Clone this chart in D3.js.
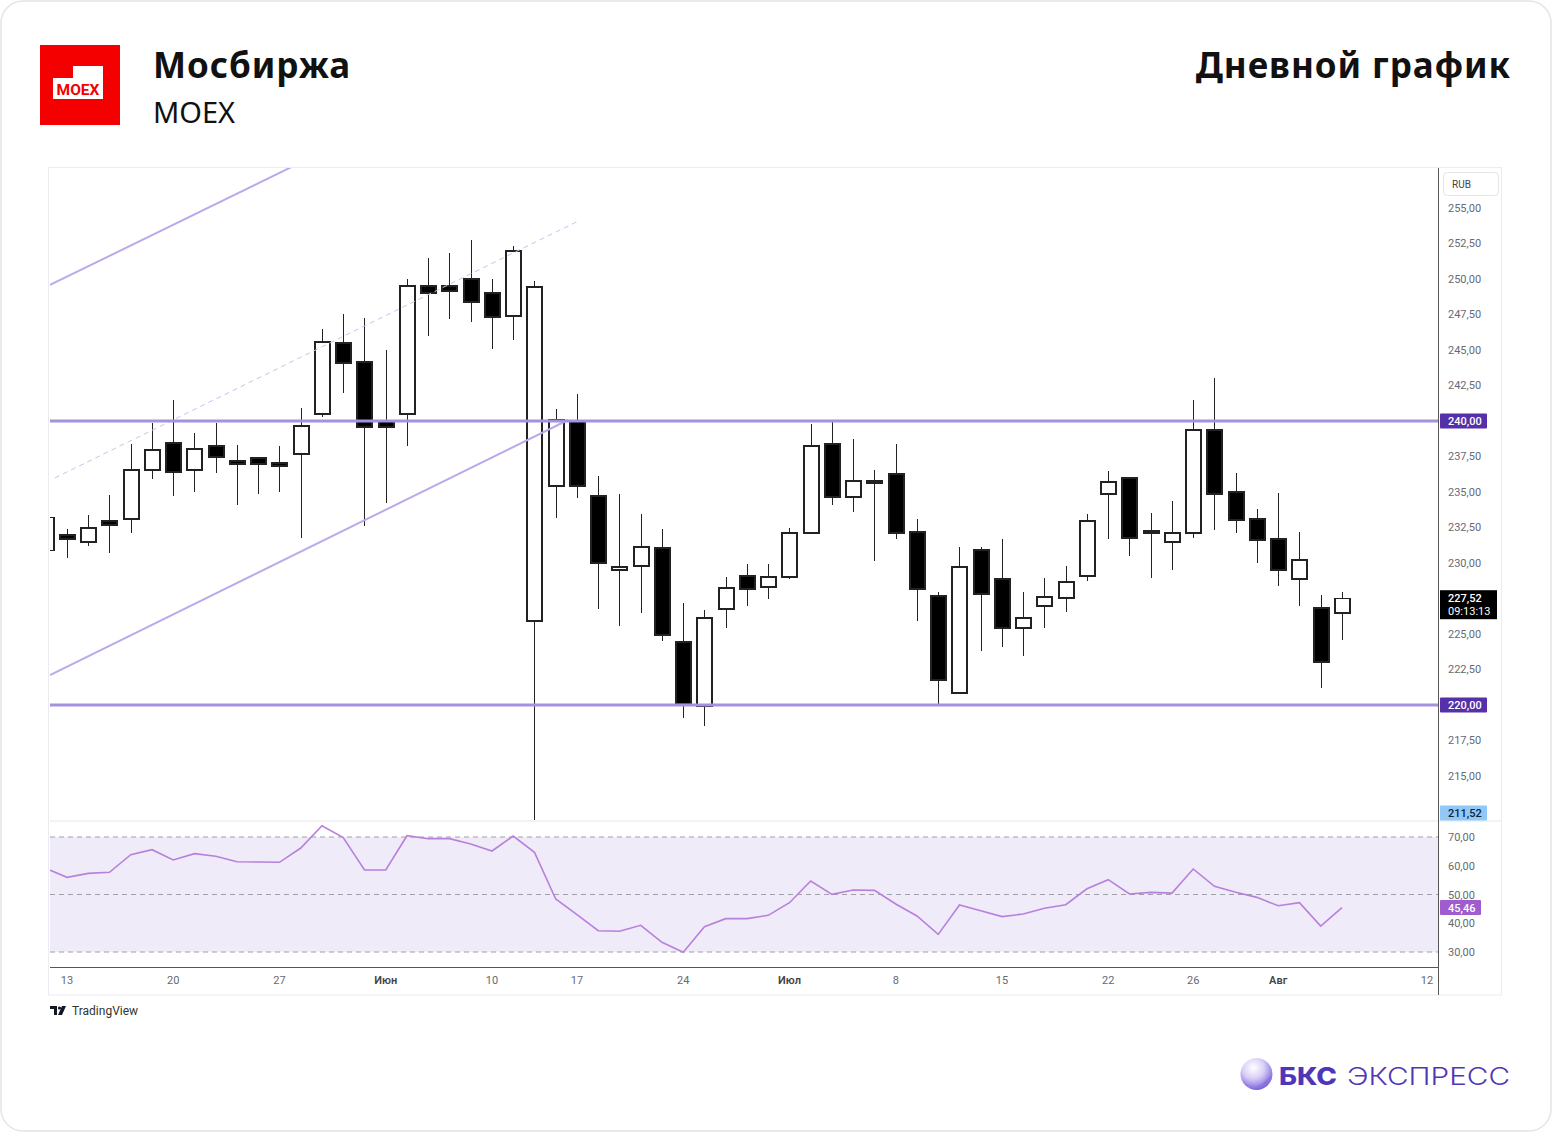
<!DOCTYPE html>
<html><head><meta charset="utf-8">
<script src="https://cdn.jsdelivr.net/npm/d3@7/dist/d3.min.js"></script>
<style>body{margin:0;background:#fff}svg{display:block}</style>
</head><body>
<svg id="c" width="1552" height="1132"></svg>
<script>
// ---------- DATA ----------
const dates = ["05-10","05-13","05-14","05-15","05-16","05-17","05-20","05-21","05-22","05-23","05-24","05-27","05-28","05-29","05-30","05-31",
"06-03","06-04","06-05","06-06","06-07","06-10","06-11","06-13","06-14","06-17","06-18","06-19","06-20","06-21","06-24","06-25","06-26","06-27","06-28",
"07-01","07-02","07-03","07-04","07-05","07-08","07-09","07-10","07-11","07-12","07-15","07-16","07-17","07-18","07-19","07-22","07-23","07-24","07-25","07-26","07-29","07-30","07-31",
"08-01","08-02","08-05","08-06","08-07","08-08","08-09","08-12"];
const open  = [230.90,231.97,231.48,232.96,233.10,236.55,238.45,236.55,238.24,237.18,237.39,237.04,237.68,240.49,245.49,244.15,240.00,240.49,249.51,249.51,250.00,249.01,247.39,225.92,235.42,240.00,234.72,229.51,229.79,231.06,224.44,219.93,226.76,229.08,228.31,229.01,232.11,238.38,234.65,235.77,236.27,232.18,227.68,220.85,230.92,228.87,225.42,226.97,227.54,229.08,234.86,235.99,232.25,231.48,232.11,239.37,235.00,233.10,231.69,228.87,226.83,226.48];
const high  = [233.40,232.39,233.38,234.79,238.38,239.86,241.48,239.15,239.86,238.31,237.46,238.24,240.92,246.48,247.54,247.25,245.00,250.00,251.48,251.83,252.75,250.00,252.32,249.86,240.85,241.90,236.13,234.86,233.45,232.39,227.18,226.69,229.01,229.93,229.93,232.46,239.79,240.00,238.73,236.55,238.38,233.10,227.96,231.13,231.13,231.69,227.96,228.94,229.79,233.45,236.48,235.99,233.52,234.37,241.48,243.03,236.34,233.80,234.93,232.18,227.75,227.96];
const low   = [230.50,230.35,231.20,230.70,232.11,235.92,234.72,235.00,236.34,234.08,234.86,235.00,231.76,240.28,241.97,232.61,234.23,238.24,245.99,247.18,246.97,245.07,245.70,211.52,233.17,234.58,226.76,225.56,226.48,224.51,219.08,218.52,225.42,226.97,227.46,228.87,232.11,234.08,233.59,230.14,231.69,225.92,220.00,220.85,223.80,224.08,223.45,225.42,226.55,228.73,231.69,230.49,228.94,229.51,231.76,232.32,232.11,230.00,228.38,226.97,221.20,224.58];
const close = [233.20,231.69,232.46,232.68,236.55,237.96,236.41,238.03,237.46,236.97,236.97,236.83,239.65,245.56,244.08,239.58,239.58,249.51,249.01,249.15,248.38,247.32,251.97,249.44,240.07,235.42,230.00,229.72,231.13,224.93,220.07,226.13,228.24,228.17,229.01,232.11,238.24,234.65,235.77,235.63,232.11,228.17,221.76,229.72,227.82,225.42,226.13,227.61,228.66,232.96,235.70,231.76,232.22,232.11,239.37,234.86,233.03,231.62,229.51,230.21,223.03,227.52];
const rsi   = [59.1,55.97,57.36,57.71,63.85,65.59,62.0,64.2,63.3,61.4,61.3,61.2,66.17,73.9,69.77,58.52,58.52,70.45,69.42,69.42,67.6,65.13,70.35,64.67,48.43,42.97,37.4,37.2,39.27,33.37,29.9,38.8,41.6,41.6,42.76,47.15,54.7,50.06,51.57,51.45,46.7,42.52,36.14,46.35,44.37,42.3,43.2,45.2,46.45,52.0,55.15,50.17,50.75,50.5,58.87,52.85,50.75,49.0,46.1,47.15,39.04,45.46];
const priceTicks = [255,252.5,250,247.5,245,242.5,237.5,235,232.5,230,225,222.5,217.5,215];
const rsiTicks = [70,60,50,40,30];
const rsiLevels = [70,50,30];
const levels = [240,220];
const tickDates  = ["05-13","05-20","05-27","06-03","06-10","06-17","06-24","07-01","07-08","07-15","07-22","07-26","08-01","08-12"];
const tickLabels = ["13","20","27","Июн","10","17","24","Июл","8","15","22","26","Авг","12"];
const monthTicks = ["Июн","Июл","Авг"];
// channel drawings: [bar position, price] pairs
const channelUpper = [[0.2,249.58],[11.47,257.82]];
const channelLower = [[0.2,222.11],[24.58,240.07]];
const channelMid   = [[0.43,235.99],[25.06,254.08]];

// ---------- LAYOUT ----------
const svg = d3.select("#c");
const L = 50, R = 1438, PT = 168, PB = 820, RT = 822, RB = 966, AXB = 995;
const fmt = v => d3.format(".2f")(v).replace(".", ",");

// card
svg.append("rect").attr("x",1).attr("y",1).attr("width",1550).attr("height",1130).attr("rx",22)
  .attr("fill","#fff").attr("stroke","#e4e4e8").attr("stroke-width",1.5);

// header
const logo = svg.append("g");
logo.append("rect").attr("x",40).attr("y",45).attr("width",80).attr("height",80).attr("fill","#f50000");
logo.append("path").attr("d","M53,78 H73 V66 H103 V99 H53 Z").attr("fill","#fff");
logo.append("text").attr("x",78).attr("y",95).attr("text-anchor","middle").attr("font-family","Roboto, Arial, sans-serif")
  .attr("font-weight",700).attr("font-size",15.5).attr("fill","#f50000").text("MOEX");
const hf = "'Noto Sans', 'Open Sans', sans-serif";
svg.append("text").attr("x",153).attr("y",78).attr("font-family",hf)
  .attr("font-weight",700).attr("font-size",35).attr("letter-spacing",0.95).attr("fill","#111").text("Мосбиржа");
svg.append("text").attr("x",153).attr("y",123).attr("font-family",hf)
  .attr("font-weight",400).attr("font-size",29).attr("fill","#111").text("MOEX");
svg.append("text").attr("x",1511).attr("y",78).attr("text-anchor","end").attr("font-family",hf)
  .attr("font-weight",700).attr("font-size",35).attr("letter-spacing",0.95).attr("fill","#111").text("Дневной график");

// frame
svg.append("rect").attr("x",48.5).attr("y",167.5).attr("width",1453).attr("height",AXB-167.5)
  .attr("fill","none").attr("stroke","#ebebf2");

// scales
const idx = d => dates.indexOf(d);
const x = d3.scaleLinear().domain([0.2, 65.52]).range([L, R]);
const y = d3.scaleLinear().domain([220, 240]).range([705, 421]);
const yr = d3.scaleLinear().domain([30, 70]).range([952, 837]);

const defs = svg.append("defs");
defs.append("clipPath").attr("id","pc").append("rect")
  .attr("x",L).attr("y",PT).attr("width",R-L).attr("height",PB-PT);
defs.append("clipPath").attr("id","rc").append("rect")
  .attr("x",L).attr("y",RT).attr("width",R-L).attr("height",RB-RT);

const pane = svg.append("g").attr("clip-path","url(#pc)");

// candles
const candles = open.map((o,i)=>({i, o, h:high[i], l:low[i], c:close[i]}));
const bw = 15;
const cg = pane.append("g").attr("shape-rendering","crispEdges");
cg.selectAll("line.w").data(candles).join("line").attr("class","w")
  .attr("x1",d=>Math.round(x(d.i))+0.5).attr("x2",d=>Math.round(x(d.i))+0.5)
  .attr("y1",d=>y(d.h)).attr("y2",d=>y(d.l)).attr("stroke","#222").attr("stroke-width",1.3);
cg.selectAll("rect.b").data(candles).join("rect").attr("class","b")
  .attr("x",d=>Math.round(x(d.i))-7).attr("width",bw)
  .attr("y",d=>y(Math.max(d.o,d.c))).attr("height",d=>Math.max(2, Math.abs(y(d.o)-y(d.c))))
  .attr("fill",d=>d.c>=d.o?"#fff":"#000").attr("stroke","#222").attr("stroke-width",1.3);

// drawings on top: channel lines
const lineGen = d3.line().x(d => x(d[0])).y(d => y(d[1]));
function extend(pts, x0, x1){
  const [a,b] = pts; const s = (b[1]-a[1])/(b[0]-a[0]);
  return [[x0, a[1]+s*(x0-a[0])],[x1, a[1]+s*(x1-a[0])]];
}
pane.append("path").attr("d", lineGen(extend(channelUpper, 0.2, 13))).attr("stroke","#bca9ec").attr("stroke-width",2).attr("fill","none");
pane.append("path").attr("d", lineGen(channelLower)).attr("stroke","#bca9ec").attr("stroke-width",2).attr("fill","none");
pane.append("path").attr("d", lineGen(channelMid)).attr("stroke","#cdbff2").attr("stroke-width",1).attr("stroke-dasharray","5,4").attr("fill","none");

// levels
pane.selectAll("line.lvl").data(levels).join("line").attr("class","lvl")
  .attr("x1",L).attr("x2",R).attr("y1",d=>y(d)).attr("y2",d=>y(d))
  .attr("stroke","#a592de").attr("stroke-width",3);

// RSI pane
const rp = svg.append("g").attr("clip-path","url(#rc)");
rp.append("rect").attr("x",L).attr("width",R-L).attr("y",yr(70)).attr("height",yr(30)-yr(70)).attr("fill","#f0ebf8");
rp.selectAll("line.rl").data(rsiLevels).join("line").attr("class","rl")
  .attr("x1",L).attr("x2",R).attr("y1",d=>yr(d)).attr("y2",d=>yr(d))
  .attr("stroke","#a0a0a8").attr("stroke-dasharray","5,4").attr("stroke-width",1);
rp.append("path").attr("d", d3.line().x((d,i)=>x(i)).y(d=>yr(d))(rsi))
  .attr("fill","none").attr("stroke","#b880dc").attr("stroke-width",1.6);

// separators / axes lines
svg.append("line").attr("x1",L).attr("x2",1502).attr("y1",821).attr("y2",821).attr("stroke","#e6e6ec");
svg.append("line").attr("x1",L).attr("x2",R).attr("y1",967.5).attr("y2",967.5).attr("stroke","#555");
svg.append("line").attr("x1",R+0.5).attr("x2",R+0.5).attr("y1",PT).attr("y2",AXB).attr("stroke","#555");

// price axis labels
const axFont = "Roboto, 'Liberation Sans', sans-serif";
svg.append("g").selectAll("text").data(priceTicks).join("text")
  .attr("x",1448).attr("y",d=>y(d)+3.5).attr("font-family",axFont).attr("font-size",11).attr("fill","#666a73").text(fmt);
svg.append("g").selectAll("text").data(rsiTicks).join("text")
  .attr("x",1448).attr("y",d=>yr(d)+4).attr("font-family",axFont).attr("font-size",11).attr("fill","#666a73").text(fmt);

// RUB box
svg.append("rect").attr("x",1443.5).attr("y",172.5).attr("width",55).attr("height",23).attr("rx",4).attr("fill","#fff").attr("stroke","#e4e4ea");
svg.append("text").attr("x",1452).attr("y",188).attr("font-family",axFont).attr("font-size",10).attr("fill","#444").text("RUB");

// badges
function badge(v, yy, bg, fg, w, h){
  svg.append("rect").attr("x",1440).attr("y",yy-h/2).attr("width",w).attr("height",h).attr("rx",1).attr("fill",bg);
  svg.append("text").attr("x",1448).attr("y",yy+4).attr("font-family",axFont).attr("font-size",11).attr("font-weight",500).attr("fill",fg).text(v);
}
levels.forEach(l => badge(fmt(l), y(l), "#5530a8", "#fff", 47, 15));
badge(fmt(d3.min(low)), 813, "#90c8f8", "#10243a", 47, 15);
badge(fmt(rsi[rsi.length-1]), yr(rsi[rsi.length-1]), "#a05ccf", "#fff", 41, 15);
// last price
const lp = close[close.length-1];
svg.append("rect").attr("x",1440).attr("y",y(lp)-8).attr("width",57).attr("height",29).attr("fill","#000");
svg.append("text").attr("x",1448).attr("y",y(lp)+4).attr("font-family",axFont).attr("font-size",11).attr("font-weight",500).attr("fill","#fff").text(fmt(lp));
svg.append("text").attr("x",1448).attr("y",y(lp)+17).attr("font-family",axFont).attr("font-size",11).attr("fill","#fff").text("09:13:13");

// time axis
svg.append("g").selectAll("text").data(tickDates).join("text")
  .attr("x",d=>x(idx(d))).attr("y",984).attr("text-anchor","middle")
  .attr("font-family",axFont).attr("font-size",11)
  .attr("font-weight",(d,i)=>monthTicks.includes(tickLabels[i])?600:400)
  .attr("fill",(d,i)=>monthTicks.includes(tickLabels[i])?"#444":"#666a73")
  .text((d,i)=>tickLabels[i]);

// TradingView mark
svg.append("path").attr("d","M50,1006 H57 V1015 H54 V1009 H50 Z M58,1015 L62,1006 H66 L62,1015 Z").attr("fill","#131722");
svg.append("circle").attr("cx",59.5).attr("cy",1008).attr("r",1.6).attr("fill","#131722");
svg.append("text").attr("x",72).attr("y",1014.5).attr("font-family",axFont).attr("font-size",12).attr("fill","#333").text("TradingView");

// BCS logo
const rg = defs.append("radialGradient").attr("id","sph").attr("cx","40%").attr("cy","30%").attr("r","75%");
rg.append("stop").attr("offset","0%").attr("stop-color","#ffffff");
rg.append("stop").attr("offset","45%").attr("stop-color","#d9d0f7");
rg.append("stop").attr("offset","100%").attr("stop-color","#6f55d6");
svg.append("circle").attr("cx",1256.5).attr("cy",1074).attr("r",16).attr("fill","url(#sph)");
svg.append("path").attr("d","M1243,1080 Q1256,1096 1271,1075 Q1266,1088 1252,1087 Q1246,1085 1243,1080 Z").attr("fill","#7a62dc").attr("opacity",0.6);
svg.append("text").attr("x",1279).attr("y",1085).attr("font-family","Inter, 'Noto Sans', sans-serif").attr("font-weight",800)
  .attr("font-size",24).attr("fill","#4f36b8").attr("textLength",58).attr("lengthAdjust","spacingAndGlyphs").text("БКС");
svg.append("text").attr("x",1347).attr("y",1085).attr("font-family","Inter, 'Noto Sans', sans-serif").attr("font-weight",300)
  .attr("font-size",24).attr("fill","#4f36b8").attr("textLength",163).attr("lengthAdjust","spacingAndGlyphs").text("ЭКСПРЕСС");
</script></body></html>
